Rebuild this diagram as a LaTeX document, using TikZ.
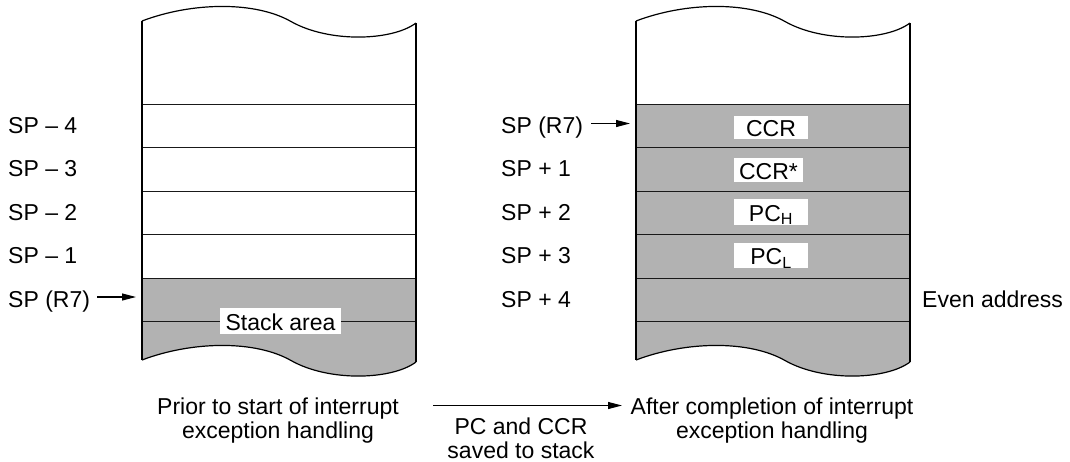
\documentclass[tikz,border=0pt]{standalone}
\usepackage{fontspec}
\setmainfont{Liberation Sans}
\usetikzlibrary{arrows.meta}
\definecolor{memfill}{gray}{0.70}
\newcommand\memwave[1]{(0,#1) .. controls (50,{#1-19}) and (113,{#1-20}) .. (149,{#1+0.5}) .. controls (187,{#1+22}) and (250,{#1+20}) .. (274,{#1+2})}
\newcommand\membox[1]{%
  \fill[memfill] (0,#1) -- \memwave{339} -- (274,#1) -- cycle;
  \foreach \yy in {83,126.5,170,213.5,257,300.5} \draw[rowline] (0,\yy) -- (274,\yy);
  \draw[memline] \memwave{0};
  \draw[memline] \memwave{339};
  \draw[memline] (0,0) -- (0,339);
  \draw[memline] (274,2) -- (274,341);
}
\tikzset{
  memline/.style={line width=1.2pt, draw=black},
  rowline/.style={line width=1pt, draw=black!90},
  lbl/.style={font=\fontsize{23}{22}\selectfont, inner sep=0pt, anchor=base west},
  ctr/.style={font=\fontsize{23}{22}\selectfont, inner sep=0pt, anchor=base},
  whitebox/.style={font=\fontsize{23}{22}\selectfont, fill=white, inner xsep=0pt, inner ysep=0pt, text height=18.5pt, text depth=0pt, minimum height=24pt},
  ptr/.style={line width=1.1pt, -{Triangle[length=14pt,width=7pt]}},
}
\begin{document}
\begin{tikzpicture}[x=1pt,y=-1pt]
\useasboundingbox (0,0) rectangle (1070,461);
% memory boxes
\begin{scope}[shift={(142,21)}]
  \membox{257}
\end{scope}
\begin{scope}[shift={(636,21)}]
  \membox{83}
\end{scope}
% left labels
\node[lbl] (lm4) at (8,133) {SP – 4};
\node[lbl] (lm3) at (8,176.5) {SP – 3};
\node[lbl] (lm2) at (8,220) {SP – 2};
\node[lbl] (lm1) at (8,263.5) {SP – 1};
\node[lbl] (lsp) at (8,307) {SP (R7)};
\coordinate (la1) at (97,297);
\coordinate (la2) at (136,297);
\draw[ptr] (la1) -- (la2);
% right labels
\node[lbl] (rsp) at (501,133) {SP (R7)};
\node[lbl] (rp1) at (501,176.5) {SP + 1};
\node[lbl] (rp2) at (501,220) {SP + 2};
\node[lbl] (rp3) at (501,263.5) {SP + 3};
\node[lbl] (rp4) at (501,307) {SP + 4};
\node[lbl] (even) at (922,307) {Even address};
\coordinate (ra1) at (591,123.5);
\coordinate (ra2) at (630,123.5);
\draw[ptr] (ra1) -- (ra2);
% white label boxes
\node[whitebox, minimum width=121pt, minimum height=26pt] (stack) at (280.5,321) {Stack area};
\node[whitebox, minimum width=74pt, minimum height=23pt] (ccr) at (771,127.5) {CCR};
\node[whitebox, minimum width=69pt] (ccrs) at (768.5,170) {CCR*};
\node[whitebox, minimum width=74pt, minimum height=26pt] (pch) at (771,212) {PC\textsubscript{H}};
\node[whitebox, minimum width=74pt, minimum height=25pt] (pcl) at (771,255.5) {PC\textsubscript{L}};
% bottom captions
\node[ctr] (pre1) at (278,414.5) {Prior to start of interrupt};
\node[ctr] (pre2) at (278,438.5) {exception handling};
\node[ctr] (mid1) at (521,434) {PC and CCR};
\node[ctr] (mid2) at (521,458) {saved to stack};
\node[ctr] (post1) at (772,414.5) {After completion of interrupt};
\node[ctr] (post2) at (772,438.5) {exception handling};
\coordinate (ba1) at (433,405.5);
\coordinate (ba2) at (622,405.5);
\draw[ptr] (ba1) -- (ba2);
\end{tikzpicture}
\end{document}
